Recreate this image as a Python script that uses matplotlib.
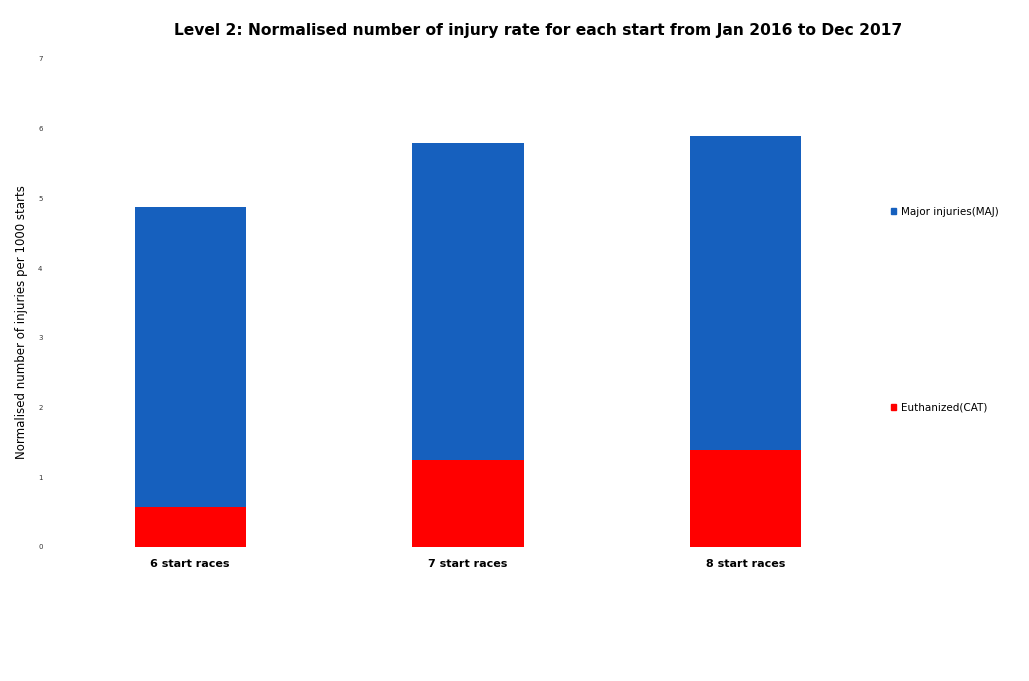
import matplotlib

matplotlib.use('AGG')
import matplotlib.pyplot as plt
from matplotlib.patches import Patch

races = ['6 start races', '7 start races', '8 start races']
cat_rate = [0.57, 1.25, 1.39]
maj_rate = [4.30, 4.55, 4.51]
series_names = ['Euthanized(CAT)', 'Major injuries(MAJ)']

col_cat = '#ff0000'
col_maj = '#1660be'

fig = plt.figure(figsize=(10.29, 6.81), dpi=100)
ax = fig.add_axes([0.0535, 0.1968, 0.782, 0.7166])

x = list(range(len(races)))
ax.bar(x, cat_rate, width=0.4, color=col_cat)
ax.bar(x, maj_rate, width=0.4, bottom=cat_rate, color=col_maj)

ax.set_xlim(-0.486, 2.41)
ax.set_ylim(0, 7)
ax.set_yticks(range(8))
ax.tick_params(axis='y', length=0, labelsize=5, pad=9, labelcolor='#333333')
ax.tick_params(axis='x', length=0, pad=9)
ax.set_xticks(x)
ax.set_xticklabels(races, fontsize=8, fontweight='bold')
for s in ax.spines.values():
    s.set_visible(False)

ax.set_ylabel('Normalised number of injuries per 1000 starts', fontsize=8.5)
ax.yaxis.set_label_coords(-0.033, 0.461)
fig.suptitle('Level 2: Normalised number of injury rate for each start from Jan 2016 to Dec 2017',
             x=0.523, y=0.966, fontsize=11.2, fontweight='bold')

handles = [Patch(color=col_maj), Patch(color=col_cat)]
fig.legend(handles, [series_names[1], series_names[0]], loc='upper left',
           bbox_to_anchor=(0.857, 0.71), frameon=False, fontsize=7.5,
           handlelength=0.5, handleheight=0.5, handletextpad=0.4, labelspacing=17.8)

fig.savefig('out.png', dpi=100)
